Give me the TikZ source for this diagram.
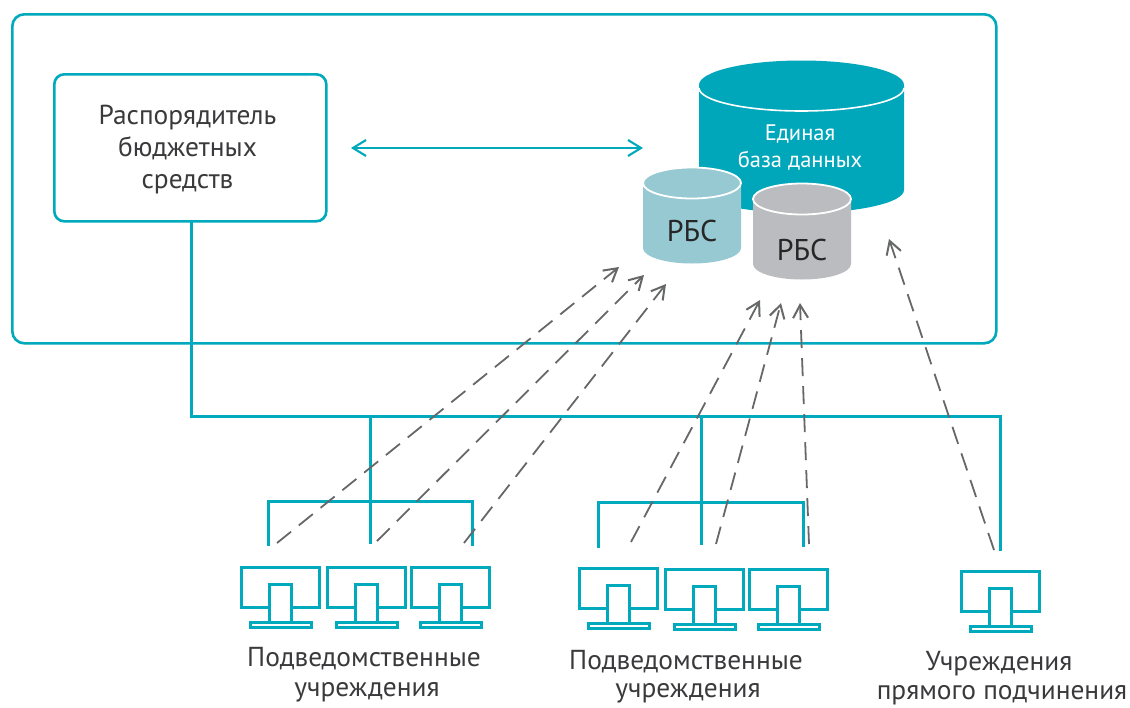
\documentclass[tikz,border=0pt]{standalone}
\usepackage{fontspec}
\setmainfont{PT Sans}
\usetikzlibrary{arrows.meta}
\definecolor{tealc}{HTML}{00A9BC}
\definecolor{dbteal}{HTML}{00A7BA}
\definecolor{lightc}{HTML}{96C9D2}
\definecolor{grayc}{HTML}{BBBCBF}
\definecolor{dashc}{HTML}{666769}
\definecolor{textc}{HTML}{3A3A3C}
\tikzset{
  x=1pt,y=-1pt,
  frame/.style={draw=tealc,line width=2.6pt,fill=white,rounded corners=10pt,inner sep=0pt,minimum width=#1},
  wire/.style={draw=tealc,line width=3pt},
  dasharrow/.style={draw=dashc,line width=1.8pt,dash pattern=on 18pt off 10pt,-{Straight Barb[length=13pt,width=15pt,line width=2pt]}},
  both/.style={draw=tealc,line width=2.1pt,{Straight Barb[length=13pt,width=16pt]}-{Straight Barb[length=13pt,width=16pt]}},
  lbl/.style={text=textc,font=\fontsize{27.4}{32}\selectfont,align=center,inner sep=0pt},
  lblr/.style={text=black!85,font=\fontsize{30}{34}\selectfont,align=center,inner sep=0pt},
  lblw/.style={text=white,font=\fontsize{22.5}{27}\selectfont,align=center,inner sep=0pt},
  monitor/.pic={
    \draw[wire,fill=white] (0,0) rectangle (78,40);
    \draw[wire,fill=white] (28,17) rectangle (50,55);
    \draw[wire,fill=white] (9,55) rectangle (70,60);
  }
}
\newcommand{\cyl}[8]{% left right ytopcentre yside rx ry fill stroke
  \fill[#7] (#1,#3) -- (#1,#4) arc[start angle=180,end angle=0,x radius=#5,y radius=#6] -- (#2,#3) -- cycle;
  \draw[#8,line width=1.8pt,fill=#7] ({(#1+#2)/2},#3) ellipse[x radius=#5,y radius=#6];
}
\begin{document}
\begin{tikzpicture}
\useasboundingbox (0,0) rectangle (1130,707);
\node[frame=984pt,minimum height=329pt,rounded corners=12pt,anchor=north west] (outer) at (11,13) {};
\node[frame=272pt,minimum height=147pt,anchor=north west] (rbs) at (53,73) {};
\node[lbl,anchor=center] (rbstext) at (187.5,150) {Распорядитель\\бюджетных\\средств};

% database cylinders
\fill[dbteal] (699,85) -- (699,190) arc[start angle=180,end angle=0,x radius=102.5,y radius=23] -- (904,85) -- cycle;
\fill[dbteal] (801.5,85) ellipse[x radius=102.5,y radius=24.5];
\draw[white,line width=1.6pt] (699,88) arc[start angle=180,end angle=0,x radius=102.5,y radius=23];
\node[lblw] (db) at (800,147.5) {Единая\\база данных};
\cyl{643}{741}{183}{248}{49}{15.5}{lightc}{white}
\node[lblr] (rbs1) at (692,231) {РБС};
\cyl{753}{851}{199}{264}{49}{15.5}{grayc}{white}
\node[lblr] (rbs2) at (802,250) {РБС};

\coordinate (bl) at (351,148);
\coordinate (br) at (643,148);
\draw[both] (bl) -- (br);

% wiring
\coordinate (w0) at (191,222);
\coordinate (w1) at (191,416);
\coordinate (w2) at (1000,416);
\coordinate (w3) at (1000,551);
\coordinate (a0) at (370,416);
\coordinate (a1) at (370,544);
\coordinate (b0) at (701,416);
\coordinate (b1) at (701,545);
\coordinate (p1) at (268,546);
\coordinate (p2) at (268,501);
\coordinate (p3) at (472,501);
\coordinate (p4) at (472,546);
\coordinate (q1) at (598,548);
\coordinate (q2) at (598,502);
\coordinate (q3) at (803,502);
\coordinate (q4) at (803,547);
\draw[wire] (w0) -- (w1) -- (w2) -- (w3);
\draw[wire] (a0) -- (a1);
\draw[wire] (b0) -- (b1);
\draw[wire] (p1) -- (p2) -- (p3) -- (p4);
\draw[wire] (q1) -- (q2) -- (q3) -- (q4);

% dashed arrows
\foreach \n/\sx/\sy/\ex/\ey in {1/277/543/619/267,2/377/541/644/275,3/464/543/666/284,4/631/542/760/300,5/716/544/781/303,6/809/544/800/303,7/994/550/889/239}{
  \coordinate (s\n) at (\sx,\sy);
  \coordinate (e\n) at (\ex,\ey);
  \draw[dasharrow] (s\n) -- (e\n);
}

% monitors
\pic (m1) at (241,567) {monitor};
\pic (m2) at (327,567) {monitor};
\pic (m3) at (411,567) {monitor};
\pic (m4) at (579,568) {monitor};
\pic (m5) at (665,569) {monitor};
\pic (m6) at (749,569) {monitor};
\pic (m7) at (961,571) {monitor};

\node[lbl] (t1) at (364,659) {Подведомственные};
\node[lbl] (t2) at (367,692) {учреждения};
\node[lbl] (t3) at (686,662) {Подведомственные};
\node[lbl] (t4) at (688,693) {учреждения};
\node[lbl] (t5) at (999,664) {Учреждения};
\node[lbl] (t6) at (1002,695.5) {прямого подчинения};
\end{tikzpicture}
\end{document}
